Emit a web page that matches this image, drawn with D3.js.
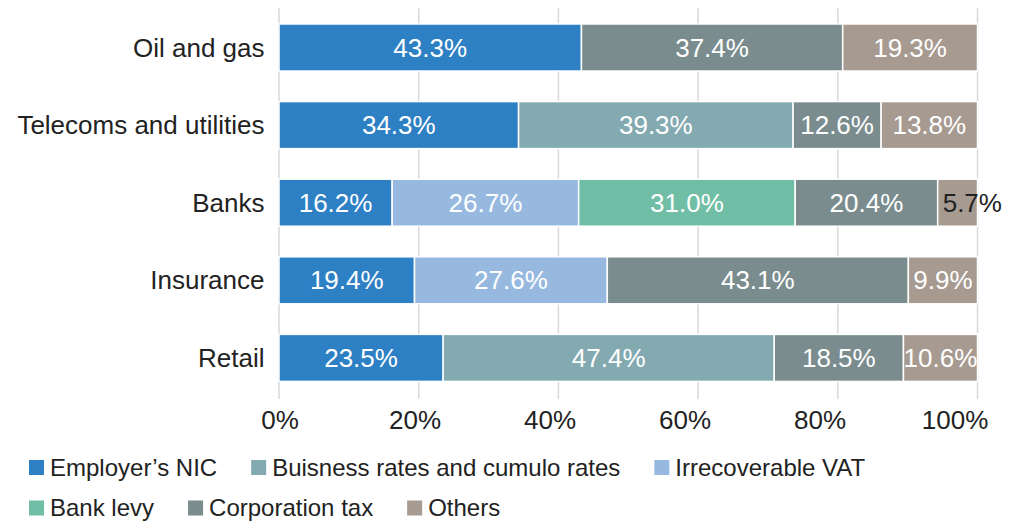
<!DOCTYPE html>
<html>
<head>
<meta charset="utf-8">
<script src="https://cdn.jsdelivr.net/npm/d3@7"></script>
<style>
  html, body { margin: 0; padding: 0; background: #fff; }
  svg { display: block; font-family: "Liberation Sans", Arial, sans-serif; }
</style>
</head>
<body>
<svg id="chart" width="1025" height="523"></svg>
<script>
// Sectors (top to bottom)
const categories = ["Oil and gas", "Telecoms and utilities", "Banks", "Insurance", "Retail"];

// Tax types, in stacking / legend order
const seriesNames = [
  "Employer\u2019s NIC",
  "Buisness rates and cumulo rates",
  "Irrecoverable VAT",
  "Bank levy",
  "Corporation tax",
  "Others"
];

// Share of total tax (%) per sector, one array per tax type (0 = not present)
const employersNIC     = [43.3, 34.3, 16.2, 19.4, 23.5];
const businessRates    = [0,    39.3, 0,    0,    47.4];
const irrecoverableVAT = [0,    0,    26.7, 27.6, 0];
const bankLevy         = [0,    0,    31.0, 0,    0];
const corporationTax   = [37.4, 12.6, 20.4, 43.1, 18.5];
const others           = [19.3, 13.8, 5.7,  9.9,  10.6];

const tickValues = [0, 20, 40, 60, 80, 100];
const tickLabels = ["0%", "20%", "40%", "60%", "80%", "100%"];

const colors = ["#2e80c4", "#83a9b1", "#97b9e0", "#70bea6", "#7a8c8e", "#a79a90"];

const seriesValues = [employersNIC, businessRates, irrecoverableVAT, bankLevy, corporationTax, others];
const rows = categories.map((c, i) => {
  const r = { category: c };
  seriesNames.forEach((s, j) => { r[s] = seriesValues[j][i]; });
  return r;
});

const svg = d3.select("#chart");
const textColor = "#222";

const x = d3.scaleLinear().domain([0, 100]).range([279, 977.5]);
// tick labels are laid out on a slightly tighter spacing than the gridlines
const xLabel = d3.scaleLinear().domain([0, 100]).range([280, 955]);
const y = d3.scaleBand().domain(categories).range([8.7, 396.7])
  .paddingInner(0.394).paddingOuter(0.197);

// Vertical gridlines
svg.append("g").selectAll("line").data(tickValues).join("line")
  .attr("x1", d => x(d)).attr("x2", d => x(d))
  .attr("y1", 8).attr("y2", 399)
  .attr("stroke", "#d9d9d9").attr("stroke-width", 1.5);

// X axis labels
svg.append("g").selectAll("text").data(tickValues).join("text")
  .attr("x", d => xLabel(d)).attr("y", 429)
  .attr("text-anchor", "middle")
  .attr("font-size", 26).attr("fill", textColor)
  .text((d, i) => tickLabels[i]);

// Category labels
svg.append("g").selectAll("text").data(categories).join("text")
  .attr("x", 264.5).attr("y", d => y(d) + y.bandwidth() / 2)
  .attr("dy", "0.35em")
  .attr("text-anchor", "end")
  .attr("font-size", 26).attr("fill", textColor)
  .text(d => d);

// Stacked bars
const stack = d3.stack().keys(seriesNames)(rows);

const layers = svg.append("g").selectAll("g").data(stack).join("g")
  .attr("fill", (d, i) => colors[i]);

layers.selectAll("rect")
  .data(d => d.filter(p => p[1] - p[0] > 0))
  .join("rect")
  .attr("x", p => x(p[0]))
  .attr("width", p => x(p[1]) - x(p[0]))
  .attr("y", p => y(p.data.category))
  .attr("height", y.bandwidth())
  .attr("stroke", "#fff").attr("stroke-width", 1.5);

// Value labels (narrow segments get a dark label that spills past the bar)
layers.selectAll("text")
  .data(d => d.filter(p => p[1] - p[0] > 0))
  .join("text")
  .each(function (p) {
    const v = p[1] - p[0];
    const small = v < 8;
    d3.select(this)
      .attr("x", small ? x(p[0]) + 5 : (x(p[0]) + x(p[1])) / 2)
      .attr("text-anchor", small ? "start" : "middle")
      .attr("fill", small ? textColor : "#fff");
  })
  .attr("y", p => y(p.data.category) + y.bandwidth() / 2)
  .attr("dy", "0.35em")
  .attr("font-size", 26)
  .text(p => (p[1] - p[0]).toFixed(1) + "%");

// Legend (two rows)
const legendRows = [[0, 1, 2], [3, 4, 5]];
const legendY = [467.5, 508];
legendRows.forEach((idxs, r) => {
  let cx = 29;
  idxs.forEach(i => {
    const g = svg.append("g").attr("transform", `translate(${cx},${legendY[r]})`);
    g.append("rect").attr("x", 0).attr("y", -7.5).attr("width", 15).attr("height", 15)
      .attr("fill", colors[i]);
    const t = g.append("text").attr("x", 21).attr("dy", "0.35em")
      .attr("font-size", 24).attr("fill", textColor).text(seriesNames[i]);
    cx += 21 + t.node().getComputedTextLength() + 34;
  });
});
</script>
</body>
</html>
